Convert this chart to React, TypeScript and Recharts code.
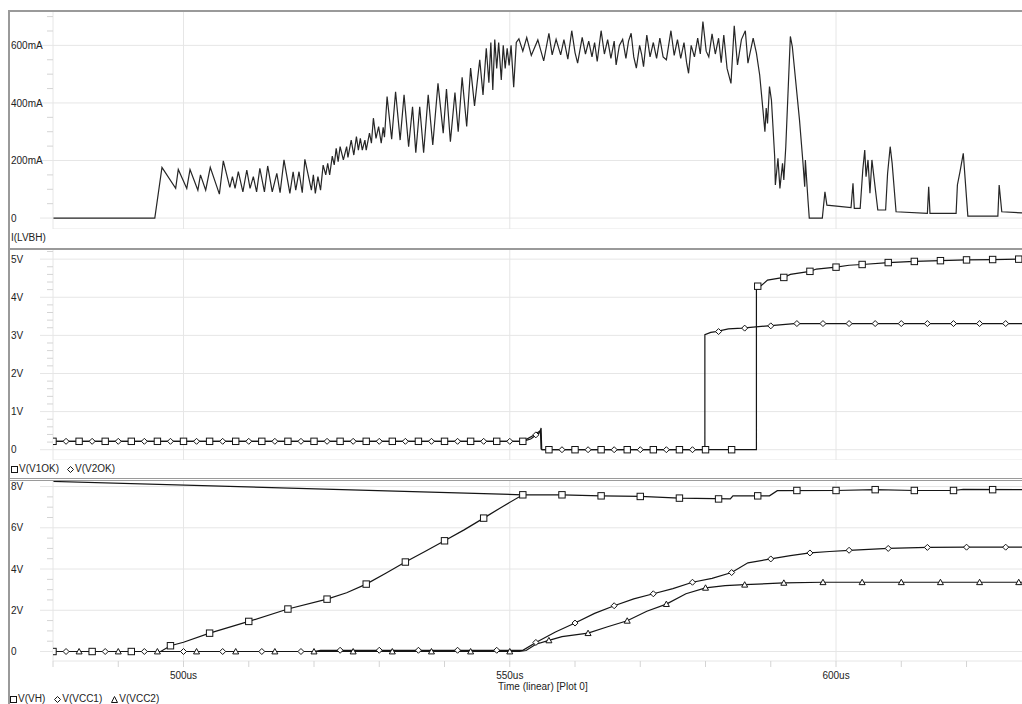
import React from "react";
import { ComposedChart, Line, XAxis, YAxis, CartesianGrid } from "recharts";

// time axis (us)
const timeDomain = [480, 628.5];
const timeGrid = [500, 550, 600];
const timeTicks = [480, 490, 500, 510, 520, 530, 540, 550, 560, 570, 580, 590, 600, 610, 620];
const timeTickLabels: Record<number, string> = { 500: "500us", 550: "550us", 600: "600us" };

// panel 1: I(LVBH) in mA, [time, value]
const iMajor = [0, 200, 400, 600];
const iMajorLabels = ["0", "200mA", "400mA", "600mA"];
const iMinor = [50, 100, 150, 250, 300, 350, 450, 500, 550, 650, 700];
const iLvbh = [
  [480, 0], [495.6, 0], [496.7, 176], [498.8, 103], [499.2, 169], [500.5, 103], [501.0, 169], [502.2, 97],
  [502.6, 150], [503.4, 97], [504.1, 176], [505.5, 83], [506.1, 199], [507.1, 107], [507.5, 144], [507.9, 103],
  [508.4, 161], [509.1, 91], [509.7, 167], [510.2, 103], [510.7, 144], [511.2, 91], [511.7, 173], [512.4, 91],
  [512.9, 181], [513.6, 91], [514.3, 155], [514.8, 88], [515.4, 202], [516.3, 86], [516.8, 161], [517.2, 97],
  [517.7, 161], [518.2, 88], [518.6, 204], [519.6, 97], [519.9, 150], [520.2, 86], [520.6, 144], [521.0, 97],
  [521.4, 184], [521.8, 150], [522.1, 190], [522.4, 150], [522.8, 215], [523.1, 185], [523.4, 242], [523.7, 196],
  [524.0, 248], [524.5, 202], [525.0, 248], [525.2, 211], [525.7, 271], [526.1, 219], [526.5, 283], [526.8, 236],
  [527.1, 277], [527.4, 236], [527.8, 271], [528.0, 236], [528.5, 295], [528.8, 260], [529.1, 347], [529.5, 277],
  [529.9, 318], [530.3, 260], [530.6, 315], [530.8, 281], [531.2, 422], [531.9, 274], [532.5, 439], [533.2, 271],
  [533.8, 428], [534.5, 248], [535.1, 387], [535.6, 227], [536.2, 387], [536.8, 227], [537.5, 428], [538.2, 254],
  [539.0, 468], [539.8, 295], [540.3, 448], [540.9, 265], [541.6, 436], [542.1, 300], [542.7, 489], [543.4, 318],
  [544.0, 521], [544.6, 390], [545.4, 550], [545.9, 428], [546.4, 590], [546.8, 470], [547.1, 610], [547.4, 445],
  [547.7, 620], [548.0, 520], [548.3, 610], [548.7, 480], [549.0, 600], [549.3, 520], [549.6, 590], [549.9, 530],
  [550.2, 600], [550.6, 455], [551.0, 610], [551.4, 623], [552.0, 580], [552.6, 627], [553.3, 565], [554.3, 619],
  [555.2, 546], [556.0, 642], [556.5, 567], [557.1, 621], [557.8, 567], [558.3, 620], [558.9, 552], [559.5, 651],
  [560.0, 575], [560.4, 538], [561.1, 628], [561.6, 570], [562.1, 615], [562.6, 560], [563.0, 610], [563.4, 544],
  [564.0, 651], [564.5, 570], [565.0, 620], [565.5, 555], [566.0, 615], [566.3, 532], [566.8, 600], [567.3, 621],
  [567.8, 555], [568.2, 615], [568.6, 642], [569.0, 560], [569.4, 521], [569.9, 600], [570.2, 570], [570.5, 526],
  [571.0, 636], [571.5, 560], [572.0, 610], [572.5, 555], [573.0, 625], [573.5, 560], [574.0, 550], [574.7, 651],
  [575.2, 565], [575.7, 620], [576.2, 555], [576.7, 610], [577.1, 540], [577.4, 503], [577.8, 600], [578.3, 560],
  [578.8, 625], [579.2, 570], [579.6, 683], [580.1, 580], [580.5, 560], [581.0, 640], [581.5, 570], [582.0, 625],
  [582.4, 540], [582.8, 636], [583.3, 520], [583.9, 468], [584.4, 668], [584.9, 532], [585.5, 620], [586.1, 651],
  [586.5, 538], [587.3, 625], [587.8, 573], [588.3, 497], [588.8, 376], [589.1, 300], [589.3, 382], [589.5, 329],
  [589.8, 457], [590.1, 410], [590.6, 213], [590.7, 115], [591.1, 208], [591.4, 103], [591.8, 190], [592.0, 132],
  [592.3, 248], [593.0, 631], [593.3, 596], [594.4, 341], [594.9, 202], [595.2, 109], [595.3, 202], [595.7, 63],
  [595.9, 0], [597.9, 0], [598.3, 91], [598.6, 45], [602.3, 36], [602.6, 121], [602.8, 34], [603.7, 34],
  [604.1, 167], [604.4, 236], [604.6, 144], [604.9, 202], [605.2, 86], [605.5, 202], [606.4, 28], [607.6, 28],
  [607.9, 155], [608.3, 248], [608.6, 190], [609.2, 22], [614.0, 16], [614.2, 109], [614.4, 16], [618.4, 16],
  [618.6, 115], [619.0, 161], [619.5, 225], [620.2, 7], [624.8, 7], [625.0, 115], [625.4, 22], [628.5, 18],
];

// panel 2: V(V1OK), V(V2OK) in V
const okMajor = [0, 1, 2, 3, 4, 5];
const okMajorLabels = ["0", "1V", "2V", "3V", "4V", "5V"];
const okMinor = [0.2, 0.4, 0.6, 0.8, 1.2, 1.4, 1.6, 1.8, 2.2, 2.4, 2.6, 2.8, 3.2, 3.4, 3.6, 3.8, 4.2, 4.4, 4.6, 4.8, 5.2];
const v1ok = [
  [480, 0.22], [552, 0.22], [553.2, 0.28], [554.6, 0.45], [554.8, 0.57], [554.9, 0], [587.8, 0], [587.8, 4.25],
  [588.5, 4.3], [589.5, 4.45], [592, 4.52], [593, 4.6], [596, 4.68], [597, 4.74], [600, 4.79], [602, 4.84],
  [604, 4.86], [608, 4.91], [612, 4.94], [616, 4.96], [620, 4.98], [624, 4.99], [628.5, 5.0],
];
const v2ok = [
  [480, 0.22], [552, 0.22], [553.8, 0.39], [554.7, 0.5], [554.8, 0.02], [555, 0], [579.9, 0], [579.9, 3.02],
  [580.8, 3.08], [581.6, 3.1], [583.5, 3.17], [585.6, 3.19], [589.6, 3.25], [593.6, 3.31], [628.5, 3.31],
];
const v1okMarks = [
  [480, 0.22], [484, 0.22], [488, 0.22], [492, 0.22], [496, 0.22], [500, 0.22], [504, 0.22], [508, 0.22],
  [512, 0.22], [516, 0.22], [520, 0.22], [524, 0.22], [528, 0.22], [532, 0.22], [536, 0.22], [540, 0.22],
  [544, 0.22], [548, 0.22], [552, 0.22], [556, 0], [560, 0], [564, 0], [568, 0], [572, 0], [576, 0], [580, 0],
  [584, 0], [588, 4.29], [592, 4.52], [596, 4.68], [600, 4.79], [604, 4.86], [608, 4.91], [612, 4.94],
  [616, 4.96], [620, 4.98], [624, 4.99], [628, 5.0],
];
const v2okMarks = [
  [482, 0.22], [486, 0.22], [490, 0.22], [494, 0.22], [498, 0.22], [502, 0.22], [506, 0.22], [510, 0.22],
  [514, 0.22], [518, 0.22], [522, 0.22], [526, 0.22], [530, 0.22], [534, 0.22], [538, 0.22], [542, 0.22],
  [546, 0.22], [550, 0.22], [554, 0.39], [558, 0], [562, 0], [566, 0], [570, 0], [574, 0], [578, 0],
  [582, 3.1], [586, 3.19], [590, 3.25], [594, 3.31], [598, 3.31], [602, 3.31], [606, 3.31], [610, 3.31],
  [614, 3.31], [618, 3.31], [622, 3.31], [626, 3.31],
];

// panel 3: V(VH), V(VCC1), V(VCC2) in V
const vMajor = [0, 2, 4, 6, 8];
const vMajorLabels = ["0", "2V", "4V", "6V", "8V"];
const vMinor = [0.5, 1, 1.5, 2.5, 3, 3.5, 4.5, 5, 5.5, 6.5, 7, 7.5];
const vh = [
  [480, 0], [496.5, 0], [498, 0.28], [500, 0.45], [504, 0.89], [510, 1.46], [516, 2.06], [522, 2.54],
  [525, 2.85], [528, 3.27], [531, 3.8], [534, 4.34], [537, 4.85], [540, 5.37], [543, 5.9], [546, 6.47],
  [549, 7.05], [552, 7.6], [558, 7.6], [564, 7.55], [570, 7.52], [576, 7.44], [583.8, 7.4], [584.2, 7.55],
  [589.8, 7.55], [591, 7.8], [600, 7.81], [606, 7.85], [612, 7.81], [618, 7.81], [619.5, 7.86], [628.5, 7.85],
];
const vhStart = [[480, 8.25], [552, 7.6]];
const vcc1 = [
  [480, 0], [520, 0], [521, 0.06], [552, 0.06], [554, 0.44], [557, 0.95], [560, 1.38], [563, 1.85],
  [566, 2.22], [569, 2.55], [572, 2.8], [575, 3.05], [578, 3.36], [581, 3.55], [584, 3.83], [586.5, 4.3],
  [590, 4.49], [593, 4.65], [596, 4.78], [599, 4.85], [602, 4.91], [608, 5.0], [614, 5.05], [620, 5.06],
  [628.5, 5.06],
];
const vcc2 = [
  [480, 0], [551.5, 0], [552.5, 0.05], [554, 0.35], [556, 0.54], [558, 0.72], [562, 0.89], [565, 1.2],
  [568, 1.49], [571, 1.95], [574, 2.3], [577, 2.8], [580, 3.09], [583, 3.2], [586, 3.24], [592, 3.33],
  [598, 3.36], [628.5, 3.36],
];
const vhMarks = [
  [480, 0], [486, 0], [492, 0], [498, 0.28], [504, 0.89], [510, 1.46], [516, 2.06], [522, 2.54], [528, 3.27],
  [534, 4.34], [540, 5.37], [546, 6.47], [552, 7.6], [558, 7.6], [564, 7.55], [570, 7.52], [576, 7.44],
  [582, 7.4], [588, 7.55], [594, 7.81], [600, 7.81], [606, 7.85], [612, 7.81], [618, 7.81], [624, 7.85],
];
const vcc1Marks = [
  [482, 0], [488, 0], [494, 0], [500, 0], [506, 0], [512, 0], [518, 0], [524, 0.06], [530, 0.06], [536, 0.06],
  [542, 0.06], [548, 0.06], [554, 0.44], [560, 1.38], [566, 2.22], [572, 2.8], [578, 3.36], [584, 3.83],
  [590, 4.49], [596, 4.78], [602, 4.91], [608, 5.0], [614, 5.05], [620, 5.06], [626, 5.06],
];
const vcc2Marks = [
  [484, 0], [490, 0], [496, 0], [502, 0], [508, 0], [514, 0], [520, 0], [526, 0], [532, 0], [538, 0],
  [544, 0], [550, 0], [556, 0.54], [562, 0.89], [568, 1.49], [574, 2.3], [580, 3.09], [586, 3.24],
  [592, 3.33], [598, 3.36], [604, 3.36], [610, 3.36], [616, 3.36], [622, 3.36], [628, 3.36],
];

const GRID = "#e6e6e6";
const TICK = "#d4d4d4";
const FRAME = "#9a9a9a";
const INK = "#151515";
const TEXT = "#222";
const FONT = '"Liberation Sans", Arial, sans-serif';

const rows = (pts: number[][]) => pts.map(([t, v]) => ({ t, v }));

function yTick(majors: number[], labels: string[]) {
  return (props: any) => {
    const { y, payload } = props;
    const i = majors.indexOf(payload.value);
    if (i >= 0) {
      return (
        <g>
          <line x1={40} x2={53} y1={y} y2={y} stroke={GRID} />
          <text x={11} y={y} dy="0.36em" textAnchor="start" fontSize={10} fontFamily={FONT} fill={TEXT}>
            {labels[i]}
          </text>
        </g>
      );
    }
    return <line x1={47} x2={53} y1={y} y2={y} stroke={TICK} />;
  };
}

const Square = (p: any) =>
  p.cx == null ? <g key={p.index} /> : (
    <rect key={p.index} x={p.cx - 3.2} y={p.cy - 3.2} width={6.4} height={6.4} fill="#fff" stroke={INK} strokeWidth={1} />
  );
const Diamond = (p: any) =>
  p.cx == null ? <g key={p.index} /> : (
    <path key={p.index} d={`M${p.cx},${p.cy - 3}L${p.cx + 3},${p.cy}L${p.cx},${p.cy + 3}L${p.cx - 3},${p.cy}Z`} fill="#fff" stroke={INK} strokeWidth={1} />
  );
const Triangle = (p: any) =>
  p.cx == null ? <g key={p.index} /> : (
    <path key={p.index} d={`M${p.cx},${p.cy - 3}L${p.cx + 3},${p.cy + 2.4}L${p.cx - 3},${p.cy + 2.4}Z`} fill="#fff" stroke={INK} strokeWidth={1} />
  );

function TimeTick(props: any) {
  const { x, payload } = props;
  const label = timeTickLabels[payload.value];
  return (
    <g>
      <line x1={x} x2={x} y1={180} y2={186} stroke={TICK} />
      {label && (
        <text x={x} y={198} textAnchor="middle" fontSize={10} fontFamily={FONT} fill={TEXT}>
          {label}
        </text>
      )}
    </g>
  );
}

function LegendMark({ kind }: { kind: "sq" | "di" | "tr" }) {
  return (
    <svg width={7} height={7} style={{ marginRight: 1 }}>
      {kind === "sq" && <rect x={0.5} y={0.5} width={6} height={6} fill="#fff" stroke={INK} />}
      {kind === "di" && <path d="M3.5,0.5L6.5,3.5L3.5,6.5L0.5,3.5Z" fill="#fff" stroke={INK} />}
      {kind === "tr" && <path d="M3.5,0.5L6.5,6.5L0.5,6.5Z" fill="#fff" stroke={INK} />}
    </svg>
  );
}

const hLine = (top: number, h: number) => (
  <div style={{ position: "absolute", left: 8, top, width: 1014, height: h, background: FRAME }} />
);

const lineProps = {
  dataKey: "v",
  type: "linear" as const,
  dot: false,
  activeDot: false,
  isAnimationActive: false,
  strokeWidth: 1.2,
  stroke: INK,
};

export default function App() {
  return (
    <div
      style={{
        position: "absolute", left: 0, top: 0, width: 1022, height: 704, overflow: "hidden",
        background: "#fff", fontFamily: FONT, fontSize: 10, color: TEXT,
      }}
    >
      {/* frame */}
      <div style={{ position: "absolute", left: 8, top: 10, width: 1.5, height: 700, background: FRAME }} />
      {hLine(10, 1.5)}
      {hLine(247.8, 2)}
      {hLine(477.5, 1.2)}
      {hLine(480, 1.2)}

      {/* panel 1 */}
      <div style={{ position: "absolute", left: 0, top: 12 }}>
        <ComposedChart width={1022} height={217} margin={{ top: 0, right: 0, bottom: 0, left: 8 }}>
          <CartesianGrid stroke={GRID} horizontalValues={[-38, ...iMajor]} verticalValues={timeGrid} />
          <XAxis dataKey="t" type="number" domain={timeDomain} allowDataOverflow hide height={0} />
          <YAxis type="number" domain={[-38, 716]} allowDataOverflow width={45} ticks={[...iMajor, ...iMinor]}
            interval={0} tickLine={false} axisLine={{ stroke: GRID }} tick={yTick(iMajor, iMajorLabels)} />
          <Line data={rows(iLvbh)} {...lineProps} stroke="#262626" />
        </ComposedChart>
      </div>
      <div style={{ position: "absolute", left: 11, top: 232, lineHeight: "12px" }}>I(LVBH)</div>

      {/* panel 2 */}
      <div style={{ position: "absolute", left: 0, top: 250 }}>
        <ComposedChart width={1022} height={210} margin={{ top: 0, right: 0, bottom: 0, left: 8 }}>
          <CartesianGrid stroke={GRID} horizontalValues={[-0.27, ...okMajor]} verticalValues={timeGrid} />
          <XAxis dataKey="t" type="number" domain={timeDomain} allowDataOverflow hide height={0} />
          <YAxis type="number" domain={[-0.27, 5.24]} allowDataOverflow width={45} ticks={[...okMajor, ...okMinor]}
            interval={0} tickLine={false} axisLine={{ stroke: GRID }} tick={yTick(okMajor, okMajorLabels)} />
          <Line data={rows(v1ok)} {...lineProps} />
          <Line data={rows(v1okMarks)} {...lineProps} stroke="none" dot={Square} />
          <Line data={rows(v2ok)} {...lineProps} />
          <Line data={rows(v2okMarks)} {...lineProps} stroke="none" dot={Diamond} />
        </ComposedChart>
      </div>
      <div style={{ position: "absolute", left: 11, top: 463, lineHeight: "12px", display: "flex", alignItems: "center", whiteSpace: "nowrap" }}>
        <LegendMark kind="sq" />
        <span style={{ marginRight: 8 }}>V(V1OK)</span>
        <LegendMark kind="di" />
        <span>V(V2OK)</span>
      </div>

      {/* panel 3 */}
      <div style={{ position: "absolute", left: 0, top: 481 }}>
        <ComposedChart width={1022} height={210} margin={{ top: 0, right: 0, bottom: 0, left: 8 }}>
          <CartesianGrid stroke={GRID} horizontalValues={vMajor} verticalValues={timeGrid} />
          <XAxis dataKey="t" type="number" domain={timeDomain} allowDataOverflow height={30} ticks={timeTicks}
            interval={0} tickLine={false} axisLine={{ stroke: GRID }} tick={TimeTick} />
          <YAxis type="number" domain={[-0.46, 8.27]} allowDataOverflow width={45} ticks={[...vMajor, ...vMinor]}
            interval={0} tickLine={false} axisLine={{ stroke: GRID }} tick={yTick(vMajor, vMajorLabels)} />
          <Line data={rows(vhStart)} {...lineProps} />
          <Line data={rows(vh)} {...lineProps} />
          <Line data={rows(vhMarks)} {...lineProps} stroke="none" dot={Square} />
          <Line data={rows(vcc1)} {...lineProps} />
          <Line data={rows(vcc1Marks)} {...lineProps} stroke="none" dot={Diamond} />
          <Line data={rows(vcc2)} {...lineProps} />
          <Line data={rows(vcc2Marks)} {...lineProps} stroke="none" dot={Triangle} />
        </ComposedChart>
      </div>
      <div style={{ position: "absolute", left: 498, top: 681, lineHeight: "12px", whiteSpace: "nowrap" }}>
        Time (linear) [Plot 0]
      </div>
      <div style={{ position: "absolute", left: 10, top: 693, lineHeight: "12px", display: "flex", alignItems: "center", whiteSpace: "nowrap" }}>
        <LegendMark kind="sq" />
        <span style={{ marginRight: 9 }}>V(VH)</span>
        <LegendMark kind="di" />
        <span style={{ marginRight: 9 }}>V(VCC1)</span>
        <LegendMark kind="tr" />
        <span>V(VCC2)</span>
      </div>
    </div>
  );
}
